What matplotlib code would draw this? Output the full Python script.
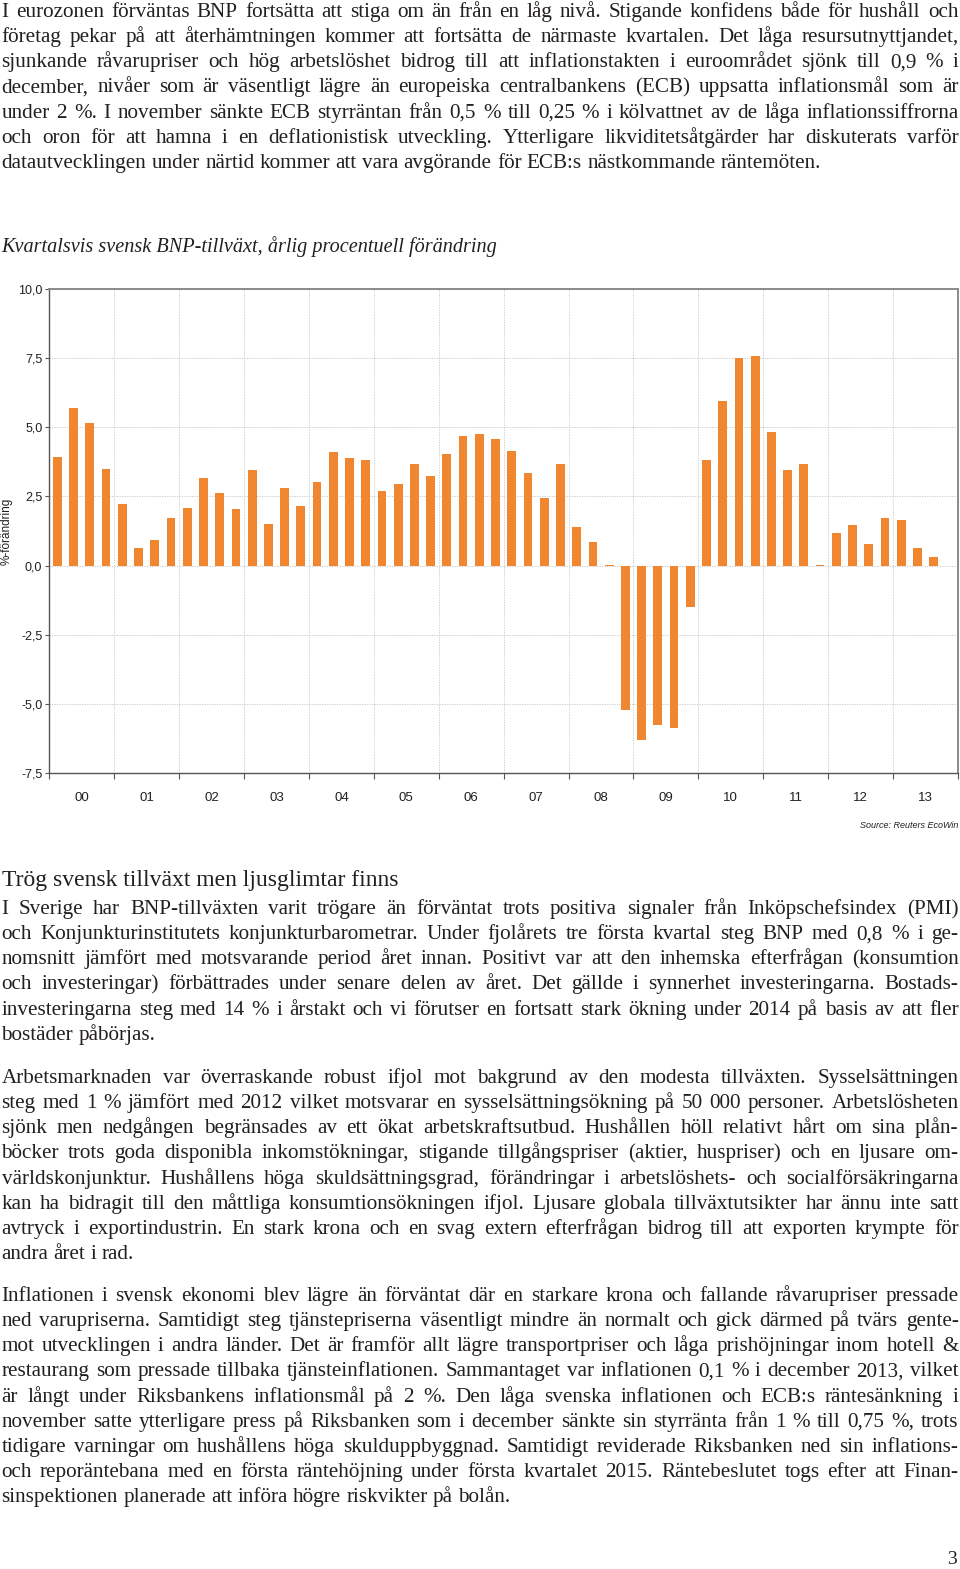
import numpy as np
import matplotlib
matplotlib.use('Agg')
import matplotlib.pyplot as plt

# Quarterly Swedish GDP growth, yearly % change (2000Q1 - 2013Q3)
years = ['00', '01', '02', '03', '04', '05', '06', '07', '08', '09', '10', '11', '12', '13']
gdp = [3.93, 5.71, 5.14, 3.48,
       2.23, 0.64, 0.94, 1.71,
       2.08, 3.17, 2.64, 2.06,
       3.45, 1.52, 2.80, 2.16,
       3.01, 4.12, 3.89, 3.81,
       2.71, 2.94, 3.69, 3.23,
       4.02, 4.70, 4.77, 4.59,
       4.14, 3.33, 2.46, 3.69,
       1.40, 0.86, 0.03, -5.23,
       -6.31, -5.78, -5.86, -1.49,
       3.81, 5.95, 7.52, 7.59,
       4.83, 3.46, 3.69, 0.03,
       1.17, 1.46, 0.77, 1.71,
       1.64, 0.65, 0.30]
yticks = [-7.5, -5.0, -2.5, 0.0, 2.5, 5.0, 7.5, 10.0]
ytick_labels = ['-7,5', '-5,0', '-2,5', '0,0', '2,5', '5,0', '7,5', '10,0']

para1 = [
    "I eurozonen förväntas BNP fortsätta att stiga om än från en låg nivå. Stigande konfidens både för hushåll och",
    "företag pekar på att återhämtningen kommer att fortsätta de närmaste kvartalen. Det låga resursutnyttjandet,",
    "sjunkande råvarupriser och hög arbetslöshet bidrog till att inflationstakten i euroområdet sjönk till 0,9 % i",
    "december, nivåer som är väsentligt lägre än europeiska centralbankens (ECB) uppsatta inflationsmål som är",
    "under 2 %. I november sänkte ECB styrräntan från 0,5 % till 0,25 % i kölvattnet av de låga inflationssiffrorna",
    "och oron för att hamna i en deflationistisk utveckling. Ytterligare likviditetsåtgärder har diskuterats varför",
    "datautvecklingen under närtid kommer att vara avgörande för ECB:s nästkommande räntemöten.",
]
para2 = [
    "I Sverige har BNP-tillväxten varit trögare än förväntat trots positiva signaler från Inköpschefsindex (PMI)",
    "och Konjunkturinstitutets konjunkturbarometrar. Under fjolårets tre första kvartal steg BNP med 0,8 % i ge-",
    "nomsnitt jämfört med motsvarande period året innan. Positivt var att den inhemska efterfrågan (konsumtion",
    "och investeringar) förbättrades under senare delen av året. Det gällde i synnerhet investeringarna. Bostads-",
    "investeringarna steg med 14 % i årstakt och vi förutser en fortsatt stark ökning under 2014 på basis av att fler",
    "bostäder påbörjas.",
]
para3 = [
    "Arbetsmarknaden var överraskande robust ifjol mot bakgrund av den modesta tillväxten. Sysselsättningen",
    "steg med 1 % jämfört med 2012 vilket motsvarar en sysselsättningsökning på 50 000 personer. Arbetslösheten",
    "sjönk men nedgången begränsades av ett ökat arbetskraftsutbud. Hushållen höll relativt hårt om sina plån-",
    "böcker trots goda disponibla inkomstökningar, stigande tillgångspriser (aktier, huspriser) och en ljusare om-",
    "världskonjunktur. Hushållens höga skuldsättningsgrad, förändringar i arbetslöshets- och socialförsäkringarna",
    "kan ha bidragit till den måttliga konsumtionsökningen ifjol. Ljusare globala tillväxtutsikter har ännu inte satt",
    "avtryck i exportindustrin. En stark krona och en svag extern efterfrågan bidrog till att exporten krympte för",
    "andra året i rad.",
]
para4 = [
    "Inflationen i svensk ekonomi blev lägre än förväntat där en starkare krona och fallande råvarupriser pressade",
    "ned varupriserna. Samtidigt steg tjänstepriserna väsentligt mindre än normalt och gick därmed på tvärs gente-",
    "mot utvecklingen i andra länder. Det är framför allt lägre transportpriser och låga prishöjningar inom hotell &",
    "restaurang som pressade tillbaka tjänsteinflationen. Sammantaget var inflationen 0,1 % i december 2013, vilket",
    "är långt under Riksbankens inflationsmål på 2 %. Den låga svenska inflationen och ECB:s räntesänkning i",
    "november satte ytterligare press på Riksbanken som i december sänkte sin styrränta från 1 % till 0,75 %, trots",
    "tidigare varningar om hushållens höga skulduppbyggnad. Samtidigt reviderade Riksbanken ned sin inflations-",
    "och reporäntebana med en första räntehöjning under första kvartalet 2015. Räntebeslutet togs efter att Finan-",
    "sinspektionen planerade att införa högre riskvikter på bolån.",
]

W, H = 960, 1569
fig = plt.figure(figsize=(W / 100, H / 100), dpi=100)
renderer = fig.canvas.get_renderer()
txt_color = '#231f20'
serif = 'Liberation Serif'
sans = 'Liberation Sans'
body_size = 15.2


def fx(x):
    return x / W


def fy(y):
    return 1 - y / H


def paragraph(lines, y0, step=25.15, x0=1.5, x1=958.5):
    for k, line in enumerate(lines):
        words = line.split(' ')
        size = body_size
        while True:
            texts = [fig.text(0, fy(y0 + k * step), w, fontsize=size, family=serif,
                              color=txt_color, va='baseline', ha='left') for w in words]
            widths = [t.get_window_extent(renderer).width for t in texts]
            min_gap = size * 100 / 72 * 0.18
            if sum(widths) + min_gap * (len(words) - 1) <= x1 - x0 or size < 10:
                break
            for t in texts:
                t.remove()
            size -= 0.2
        if k < len(lines) - 1 and len(words) > 1:
            gap = (x1 - x0 - sum(widths)) / (len(words) - 1)
        else:
            gap = size * 100 / 72 * 0.25
        x = x0
        for t, w in zip(texts, widths):
            t.set_x(fx(x))
            x += w + gap


paragraph(para1, 17)
paragraph(para2, 914)
paragraph(para3, 1083)
paragraph(para4, 1301)

fig.text(fx(1.5), fy(252), 'Kvartalsvis svensk BNP-tillväxt, årlig procentuell förändring',
         fontsize=14.6, family=serif, style='italic', color=txt_color, va='baseline')
fig.text(fx(1.5), fy(886), 'Trög svensk tillväxt men ljusglimtar finns',
         fontsize=17, family=serif, color=txt_color, va='baseline')
fig.text(fx(957), fy(1564), '3', fontsize=14, family=serif, color=txt_color,
         va='baseline', ha='right')
fig.text(fx(958), fy(826), 'Source: Reuters EcoWin', fontsize=6.5, family=sans,
         style='italic', color=txt_color, va='center', ha='right')
fig.text(fx(7), fy(531), '%-förändring', fontsize=8.5, family=sans, color=txt_color,
         rotation=90, ha='center', va='center')

# chart
ax = fig.add_axes([fx(49.3), fy(773), (958 - 49.3) / W, (773 - 289) / H])
xpos = [(i + 0.5) / 4 for i in range(len(gdp))]
ax.bar(xpos, gdp, width=0.135, color='#f08630', zorder=3)

ax.set_xlim(0, len(years))
ax.set_ylim(-7.5, 10)
ax.set_yticks(yticks)
ax.set_yticklabels(ytick_labels, family=sans, fontsize=9, color=txt_color)
ax.set_xticks(np.arange(0, len(years) + 1))
ax.set_xticklabels([])
ax.set_xticks(np.arange(len(years)) + 0.5, minor=True)
ax.set_xticklabels(years, minor=True, family=sans, fontsize=9.5, color=txt_color)
ax.tick_params(axis='x', which='major', length=4, width=0.8, color='#555555', direction='out')
ax.tick_params(axis='x', which='minor', length=0, pad=14)
ax.tick_params(axis='y', length=3, width=0.8, color='#555555', pad=2)
ax.grid(True, which='major', linestyle=(0, (1.5, 1.5)), color='#c4c4c4', linewidth=0.6, zorder=0)

for side in ['left', 'bottom']:
    ax.spines[side].set_color('#555555')
    ax.spines[side].set_linewidth(1.0)
for side in ['top', 'right']:
    ax.spines[side].set_color('#8a8a8a')
    ax.spines[side].set_linewidth(1.4)

fig.savefig('out.png', dpi=100)
